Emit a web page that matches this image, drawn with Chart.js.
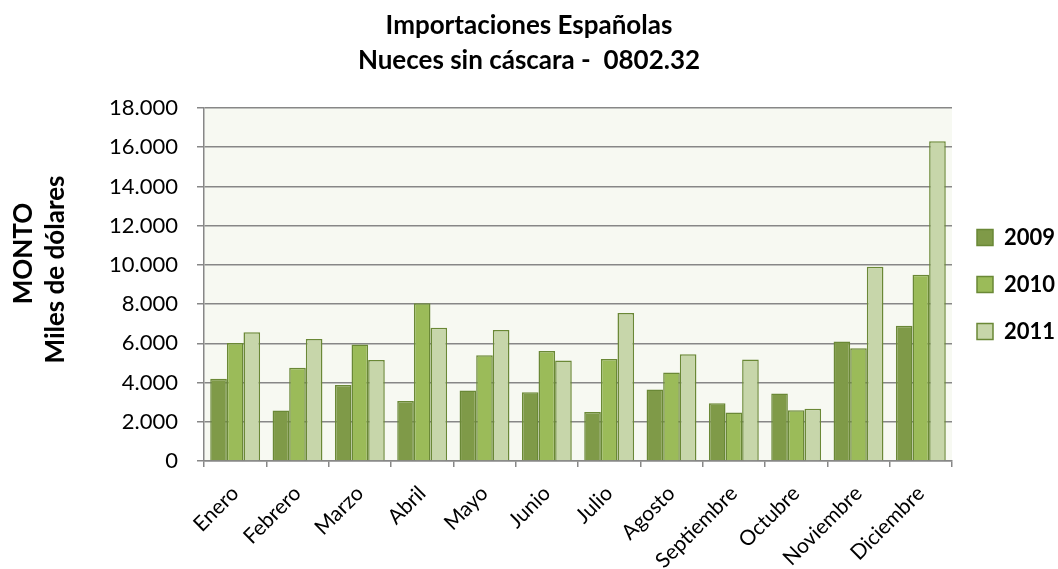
<!DOCTYPE html>
<html lang="es">
<head>
<meta charset="UTF-8">
<title>Importaciones Españolas</title>
<script src="https://cdn.jsdelivr.net/npm/chart.js@4.4.1/dist/chart.umd.min.js"></script>
<style>
    html, body { margin: 0; padding: 0; background: #fff; }
    .wrap { position: relative; width: 1058px; height: 569px; }
</style>
</head>
<body>
<div class="wrap"><canvas id="chart" width="1058" height="569"></canvas></div>
<script>
// datos (miles de dolares)
var meses = ['Enero', 'Febrero', 'Marzo', 'Abril', 'Mayo', 'Junio', 'Julio', 'Agosto', 'Septiembre', 'Octubre', 'Noviembre', 'Diciembre'];
var anios = ['2009', '2010', '2011'];
var v2009 = [4200, 2570, 3880, 3060, 3590, 3500, 2500, 3640, 2940, 3440, 6090, 6900];
var v2010 = [6020, 4760, 5940, 8040, 5390, 5610, 5200, 4510, 2470, 2590, 5750, 9500];
var v2011 = [6570, 6220, 5150, 6790, 6680, 5120, 7550, 5440, 5170, 2670, 9900, 16310];
var yTicks = [0, 2000, 4000, 6000, 8000, 10000, 12000, 14000, 16000, 18000];
var yTitulo = ['MONTO', 'Miles de dólares'];

var FONT = 'Lato, "Open Sans", sans-serif';

function miles(n) {
    return String(n).replace(/\B(?=(\d{3})+(?!\d))/g, '.');
}

// fondo del area de trazado
var plotBg = {
    id: 'plotBg',
    beforeDraw: function (chart) {
        var a = chart.chartArea, c = chart.ctx;
        c.save();
        c.fillStyle = '#F7F9F2';
        c.fillRect(a.left, a.top, a.right - a.left, a.bottom - a.top);
        c.restore();
    }
};

// titulo del eje Y en dos lineas (como en Excel, no quedan centradas igual)
var yTitle = {
    id: 'yTitle',
    afterDraw: function (chart) {
        var c = chart.ctx, a = chart.chartArea;
        var mid = (a.top + a.bottom) / 2;
        var pos = [{ x: 24, y: mid - 31 }, { x: 56, y: mid - 15 }];
        c.save();
        c.fillStyle = '#000';
        c.font = 'bold 26px ' + FONT;
        c.textAlign = 'center';
        c.textBaseline = 'middle';
        yTitulo.forEach(function (t, i) {
            c.save();
            c.translate(pos[i].x, pos[i].y);
            c.rotate(-Math.PI / 2);
            c.fillText(t, 0, 0);
            c.restore();
        });
        c.restore();
    }
};

var ctx = document.getElementById('chart').getContext('2d');
var chart = new Chart(ctx, {
    type: 'bar',
    data: {
        labels: meses,
        datasets: [
            { label: anios[0], data: v2009, backgroundColor: '#7F9A48', borderColor: '#6A8836', borderWidth: 1.5 },
            { label: anios[1], data: v2010, backgroundColor: '#9BBB59', borderColor: '#6A8836', borderWidth: 1.5 },
            { label: anios[2], data: v2011, backgroundColor: '#C7D6AA', borderColor: '#6A8836', borderWidth: 1.5 }
        ]
    },
    options: {
        responsive: false,
        animation: false,
        layout: { padding: 0 },
        datasets: { bar: { categoryPercentage: 0.8, barPercentage: 1.0 } },
        plugins: {
            title: {
                display: true,
                text: ['Importaciones Españolas', 'Nueces sin cáscara -  0802.32'],
                color: '#000',
                font: { family: FONT, size: 26, weight: 'bold', lineHeight: 1.346 },
                padding: { top: 8.5, bottom: 29.5 }
            },
            legend: {
                position: 'right',
                fullSize: false,
                align: 'center',
                maxWidth: 106,
                labels: {
                    color: '#000',
                    font: { family: FONT, size: 22, weight: 'bold' },
                    boxWidth: 16,
                    boxHeight: 16,
                    padding: 25
                }
            },
            tooltip: { enabled: false }
        },
        scales: {
            x: {
                grid: { drawOnChartArea: false, color: '#878787', lineWidth: 1.5, tickLength: 6 },
                border: { color: '#878787', width: 1.5 },
                ticks: {
                    color: '#000',
                    font: { family: FONT, size: 21 },
                    maxRotation: 45, minRotation: 45,
                    padding: 14
                },
                afterFit: function (s) { s.height = 108; }
            },
            y: {
                min: 0, max: 18000,
                grid: { color: '#878787', lineWidth: 1.5, tickLength: 7 },
                border: { color: '#878787', width: 1.5 },
                afterBuildTicks: function (s) { s.ticks = yTicks.map(function (v) { return { value: v }; }); },
                ticks: {
                    color: '#000',
                    font: { family: FONT, size: 22 },
                    padding: 19,
                    callback: function (v) { return miles(v); }
                },
                afterFit: function (s) { s.width = 204; }
            }
        }
    },
    plugins: [plotBg, yTitle]
});
</script>
</body>
</html>
